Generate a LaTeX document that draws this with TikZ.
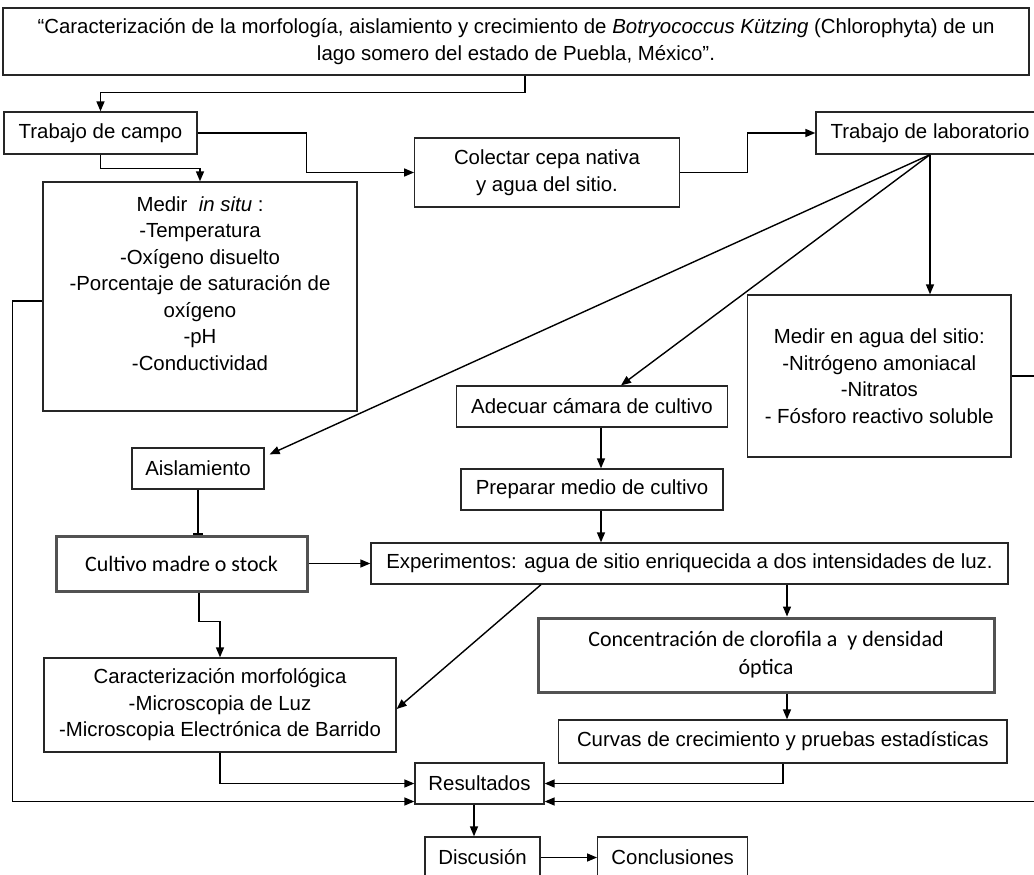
\documentclass[tikz,border=0pt]{standalone}
\usepackage{fontspec}
\setmainfont{Liberation Sans}
\newfontfamily\calibfont{Carlito}
\usetikzlibrary{arrows.meta,calc}

\tikzstyle{caja}=[draw=black!85,
                  line width=1.3pt,
                  inner sep=0pt,
                  align=center,
                  font=\fontsize{20.4}{26.5}\selectfont]
\tikzstyle{cajagris}=[draw=black!68,
                      line width=3pt,
                      inner sep=0pt,
                      align=center,
                      font=\calibfont\fontsize{22}{28}\selectfont]
\tikzstyle{flecha}=[->, line width=1.4pt]

\begin{document}
\begin{tikzpicture}[x=1pt, y=-1pt, >={Triangle[length=10pt,width=8pt]}]
    \useasboundingbox (0,0) rectangle (1034,875);
    \clip (0,0) rectangle (1034,875);

    \node[caja, minimum width=1026pt, minimum height=67pt] (titulo) at (516,41.5) {``Caracterización de la morfología, aislamiento y crecimiento de \textit{Botryococcus Kützing} (Chlorophyta) de un\\lago somero del estado de Puebla, México''.};
    \node[caja, minimum width=193pt, minimum height=42pt] (campo) at (100.5,133) {Trabajo de campo};
    \node[caja, minimum width=314pt, minimum height=229pt] (insitu) at (200,296.5) {Medir \ \textit{in situ} :\\-Temperatura\\-Oxígeno disuelto\\-Porcentaje de saturación de\\oxígeno\\-pH\\-Conductividad\\ \mbox{}};
    \node[caja, minimum width=264.5pt, minimum height=69pt] (colectar) at (547,172.5) {Colectar cepa nativa\\y agua del sitio.};
    \node[caja, minimum width=228pt, minimum height=42pt] (lab) at (930,133) {Trabajo de laboratorio};
    \node[caja, minimum width=263.4pt, minimum height=162pt] (medagua) at (879.3,376) {Medir en agua del sitio:\\-Nitrógeno amoniacal\\-Nitratos\\- Fósforo reactivo soluble};
    \node[caja, minimum width=270.5pt, minimum height=41pt] (adecuar) at (592,406.5) {Adecuar cámara de cultivo};
    \node[caja, minimum width=262pt, minimum height=41pt] (preparar) at (592,489.5) {Preparar medio de cultivo};
    \node[caja, minimum width=637pt, minimum height=41pt] (exper) at (689.5,563.5) {Experimentos: agua de sitio enriquecida a dos intensidades de luz.};
    \node[caja, minimum width=132pt, minimum height=41pt] (aisl) at (198,468.5) {Aislamiento};
    \node[cajagris, minimum width=251pt, minimum height=55pt] (cultivo) at (181.5,563.5) {Cultivo madre o stock};
    \node[caja, minimum width=352pt, minimum height=94pt] (caract) at (220,705) {Caracterización morfológica\\-Microscopia de Luz\\-Microscopia Electrónica de Barrido};
    \node[cajagris, minimum width=456pt, minimum height=74pt] (concen) at (766,655) {Concentración de clorofila a\ \ y densidad\\óptica};
    \node[caja, minimum width=448.4pt, minimum height=43pt] (curvas) at (782.8,741.5) {Curvas de crecimiento y pruebas estadísticas};
    \node[caja, minimum width=129pt, minimum height=41pt] (result) at (479.5,783.5) {Resultados};
    \node[caja, minimum width=115pt, minimum height=41pt] (discu) at (482.5,857.5) {Discusión};
    \node[caja, minimum width=150pt, minimum height=41pt] (concl) at (672.7,857.5) {Conclusiones};

    % campo
    \draw[flecha] ([xshift=9pt]titulo.south) -- ++(0,17) -| (campo.north);
    \draw[flecha] (campo.south) -- ++(0,14) -| (insitu.north);
    \draw[flecha] (campo.east) -- ++(109,0) |- (colectar.west);
    \draw[flecha] (colectar.east) -- ++(67.5,0) |- (lab.west);
    \draw[flecha] ([yshift=-4.5pt]insitu.west) -- ++(-30,0) |- ([yshift=-18pt]result.west);

    % laboratorio
    \draw[flecha] (lab.south) -- ([shift={(5pt,-7pt)}]aisl.north east);
    \draw[flecha] (lab.south) -- ([xshift=29pt]adecuar.north);
    \draw[flecha] (lab.south) -- (lab.south |- medagua.north);
    \draw[flecha] (medagua.east) -- ++(29,0) |- ([yshift=-18pt]result.east);

    \draw[line width=1.4pt, -{Bar[width=10pt]}] (aisl.south) -- (aisl.south |- cultivo.north);
    \draw[flecha] (cultivo) -- (exper);
    \draw[flecha] ([xshift=17.5pt]cultivo.south) -- ++(0,29) -| (caract.north);
    \draw[flecha] ([xshift=9pt]adecuar.south) -- ([xshift=9pt]preparar.north);
    \draw[flecha] ([xshift=9pt]preparar.south) -- ([xshift=9pt]preparar.south |- exper.north);
    \draw[flecha] ([xshift=-148.5pt]exper.south) -- ([yshift=-4pt]caract.east);
    \draw[flecha] ([xshift=97.5pt]exper.south) -- ([xshift=97.5pt]exper.south |- concen.north);
    \draw[flecha] ([xshift=21pt]concen.south) -- ([xshift=21pt]concen.south |- curvas.north);

    % resultados
    \draw[flecha] (caract.south) |- (result.west);
    \draw[flecha] (curvas.south) |- (result.east);
    \draw[flecha] ([xshift=-5.5pt]result.south) -- ([xshift=-5.5pt]result.south |- discu.north);
    \draw[flecha] (discu) -- (concl);

\end{tikzpicture}
\end{document}
